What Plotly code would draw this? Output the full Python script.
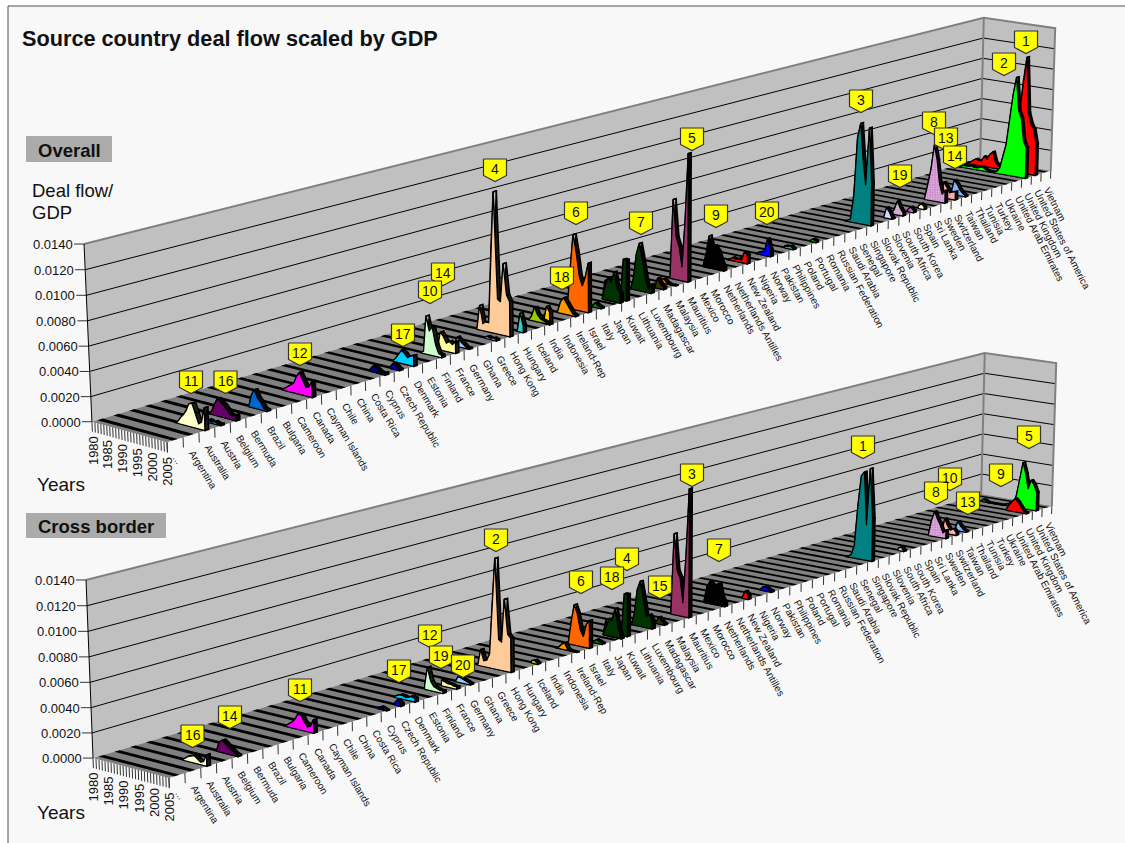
import numpy as np
import plotly.graph_objects as go

CATEGORIES = ["...", "Argentina", "Australia", "Austria", "Belgium", "Bermuda", "Brazil", "Bulgaria", "Cameroon", "Canada",
    "Cayman Islands", "Chile", "China", "Costa Rica", "Cyprus", "Czech Republic", "Denmark", "Estonia", "Finland", "France",
    "Germany", "Ghana", "Greece", "Hong Kong", "Hungary", "Iceland", "India", "Indonesia", "Ireland-Rep", "Israel", "Italy",
    "Japan", "Kuwait", "Lithuania", "Luxembourg", "Madagascar", "Malaysia", "Mauritius", "Mexico", "Morocco", "Netherlands",
    "Netherlands Antilles", "New Zealand", "Nigeria", "Norway", "Pakistan", "Philippines", "Poland", "Portugal", "Romania",
    "Russian Federation", "Saudi Arabia", "Senegal", "Singapore", "Slovak Republic", "Slovenia", "South Africa", "South Korea",
    "Spain", "Sri Lanka", "Sweden", "Switzerland", "Taiwan", "Thailand", "Tunisia", "Turkey", "Ukraine",
    "United Arab Emirates", "United Kingdom", "United States of America", "Vietnam"]
YEAR_LABELS = ["1980", "1985", "1990", "1995", "2000", "2005"]
VALUE_LABELS = ["0.0000", "0.0020", "0.0040", "0.0060", "0.0080", "0.0100", "0.0120", "0.0140"]

# Every series lists its last years, the final value being 2005.
ov_australia = [0, .0001, .0005, .0008, .0012, .0018, .0019, .0012, .0004, .0006, .0018]
ov_austria = [.0001, .0002, .0001, .0002, .0001, .0001]
ov_belgium = [0, .0003, .0009, .0014, .0012, .0010, .0007, .0004, .0003, .0005]
ov_brazil = [0, .0010, .0015, .0009, .0006, .0002, .0001]
ov_canada = [0, .0002, .0004, .0006, .0008, .0014, .0018, .0012, .0007, .0008, .0013]
ov_cyprus = [.0002, .0005, .0004, .0002, .0001, .0002]
ov_czech = [.0002, .0005, .0003, .0001]
ov_denmark = [0, .0003, .0007, .0011, .0009, .0006, .0008, .0009]
ov_finland = [0, .0002, .0032, .0020, .0024, .0010, .0003, .0002]
ov_france = [0, .0015, .0012, .0007, .0009, .0007, .0010]
ov_germany = [0, .0008, .0005, .0003, .0001, .0001]
ov_greece = [.0001, .0002, .0001, .0002, .0001]
ov_hong_kong = [0, .0021, .0006, .0008, .0008, .0070, .0120, .0030, .0028, .0061, .0035, .0030]
ov_hungary = [0, .0016, .0006]
ov_iceland = [0, .0004, .0012, .0006, .0003, .0002, .0001, .0001]
ov_india = [.0001, .0015, .0011]
ov_ireland = [.0001, .0010, .0014, .0010, .0006, .0002, .0001]
ov_israel = [.0002, .0035, .0065, .0050, .0030, .0022, .0030, .0043]
ov_italy = [.0001, .0004, .0002, .0001]
ov_japan_back = [0, .0017, 0, 0, 0, 0, 0]
ov_japan = [0, .0012, .0020, .0016, .0026, .0012, .0008]
ov_kuwait = [.0001, .0036, .0036]
ov_luxembourg = [0, .0010, .0032, .0042, .0028, .0012, .0003, .0008]
ov_madagascar = [0, .0009, .0004, .0002]
ov_malaysia = [.0003, .0004, .0001, 0, 0, 0]
ov_mauritius = [.0002, .0071, .0038, .0030, .0012, .0054, .0114]
ov_netherlands = [.0001, .0012, .0029, .0020, .0021, .0017, .0009, .0003]
ov_new_zealand = [0, .0001, .0003, .0002, .0003, .0002, .0010, .0008]
ov_norway = [0, .0002, .0003, .0004, .0016, .0006]
ov_philippines = [.0002, .0002, .0003, .0001]
ov_portugal = [.0001, .0003, .0002]
ov_singapore = [0, .0001, .0003, .0025, .0080, .0094, .0060, .0037, .0091, .0040]
ov_slovenia = [0, .0010, .0006, .0001]
ov_south_africa = [0, .0005, .0013, .0007, .0003]
ov_south_korea = [.0002, .0005, .0002]
ov_spain = [.0002, .0005, .0003]
ov_sweden = [.0001, .0015, .0030, .0054, .0040, .0018, .0008, .0012]
ov_switzerland = [0, .0015, .0011, .0006, .0007, .0008]
ov_taiwan = [0, .0014, .0011, .0006, .0003, .0001]
ov_uk = [0, 0, 0, .0002, .0002, .0002, .0003, .0002, .0002, .0003, .0004, .0002, .0001, .0001, .0001, .0002, .0006, .0018,
         .0030, .0055, .0080, .0097, .0065, .0058, .0036, .0030]
ov_usa = [0, .0001, .0002, .0004, .0006, .0005, .0005, .0010, .0008, .0013, .0016, .0006, .0003, .0003, .0003, .0005, .0007,
          .0012, .0020, .0060, .0090, .0114, .0060, .0050, .0045, .0031]

cb_australia = [0, .0002, .0004, .0005, .0006, .0004, .0002, .0003, .0009]
cb_belgium = [0, .0008, .0010, .0008, .0006, .0004, .0002, .0001]
cb_canada = [0, .0001, .0003, .0005, .0008, .0013, .0012, .0007, .0004, .0005, .0011]
cb_cyprus = [.0001, .0002, .0001, 0]
cb_czech = [.0002, .0005, .0002]
cb_denmark = [0, .0002, .0003, .0003, .0002, .0003, .0004, .0003]
cb_finland = [.0003, .0019, .0008, .0004, .0003, .0002, .0002]
cb_france = [.0005, .0004, .0003, .0003, .0002, .0002]
cb_germany = [0, .0005, .0004, .0003, .0002, .0001]
cb_hong_kong = [0, .0014, .0005, .0006, .0012, .0055, .0094, .0026, .0024, .0061, .0032, .0029]
cb_iceland = [.0002, .0003, .0001]
cb_ireland = [0, .0001, .0004, .0006, .0001, 0, 0, 0]
cb_israel = [.0001, .0020, .0035, .0028, .0014, .0009, .0020, .0024]
cb_italy = [.0001, .0003, .0002, .0001]
cb_japan_back = [0, .0014, 0, 0, 0, 0, 0]
cb_japan = [0, .0008, .0015, .0014, .0025, .0009, .0001]
cb_kuwait = [.0001, .0037, .0037]
cb_luxembourg = [0, .0010, .0032, .0040, .0025, .0010, .0012, .0007]
cb_madagascar = [0, .0006, .0003, .0001]
cb_mauritius = [.0002, .0072, .0040, .0034, .0012, .0055, .0114]
cb_netherlands = [.0001, .0015, .0020, .0017, .0018, .0020, .0008, .0003]
cb_new_zealand = [.0001, .0007, .0004]
cb_norway = [0, .0003, .0004, .0002, .0001]
cb_singapore = [0, .0001, .0003, .0012, .0050, .0078, .0082, .0033, .0086, .0040]
cb_south_africa = [.0002, .0004, .0001]
cb_sweden = [.0001, .0015, .0024, .0017, .0012, .0005, .0008]
cb_switzerland = [0, .0014, .0008, .0004, .0006, .0003]
cb_taiwan = [0, .0009, .0005, .0002, .0001]
cb_uk = [.0001, .0006, .0010, .0013, .0010, .0006, .0002, .0001]
cb_usa = [.0002, .0002, 0, 0, 0, 0, 0, 0, .0001, .0002, 0, .0003, .0012, .0027, .0045, .0035, .0020, .0029, .0025, .0018]

OVERALL_SERIES = [
    ("Australia", ov_australia, "#FFFFCC", None), ("Austria", ov_austria, "#339999", None),
    ("Belgium", ov_belgium, "#660066", None), ("Brazil", ov_brazil, "#0066CC", None),
    ("Canada", ov_canada, "#FF00FF", None), ("Cyprus", ov_cyprus, "#000080", None),
    ("Czech Republic", ov_czech, "#0000CC", None), ("Denmark", ov_denmark, "#00CCFF", None),
    ("Finland", ov_finland, "#CCFFCC", None), ("France", ov_france, "#FFFF99", None),
    ("Germany", ov_germany, "#99CCFF", None), ("Greece", ov_greece, "#CC99FF", None),
    ("Hong Kong", ov_hong_kong, "#FFCC99", None), ("Hungary", ov_hungary, "#33CCCC", None),
    ("Iceland", ov_iceland, "#99CC00", None), ("India", ov_india, "#FFCC00", None),
    ("Ireland-Rep", ov_ireland, "#FF9900", None), ("Israel", ov_israel, "#FF6600", None),
    ("Italy", ov_italy, "#008000", None), ("Japan", ov_japan_back, "#CC5500", None), ("Japan", ov_japan, "#003300", None),
    ("Kuwait", ov_kuwait, "#003300", None), ("Luxembourg", ov_luxembourg, "#003300", None),
    ("Madagascar", ov_madagascar, "#333300", None), ("Malaysia", ov_malaysia, "#FF6600", None),
    ("Mauritius", ov_mauritius, "#993366", None), ("Netherlands", ov_netherlands, "#000000", None),
    ("New Zealand", ov_new_zealand, "#FF0000", None), ("Norway", ov_norway, "#0000FF", None),
    ("Philippines", ov_philippines, "#339999", None), ("Portugal", ov_portugal, "#008000", None),
    ("Singapore", ov_singapore, "#008080", None), ("Slovenia", ov_slovenia, "#CCCCFF", "."),
    ("South Africa", ov_south_africa, "#CC99CC", "."), ("South Korea", ov_south_korea, "#CC66CC", None),
    ("Spain", ov_spain, "#FFFFCC", None), ("Sweden", ov_sweden, "#CC88CC", "."),
    ("Switzerland", ov_switzerland, "#FF9999", "."), ("Taiwan", ov_taiwan, "#66AAFF", "."),
    ("United Kingdom", ov_uk, "#00FF00", None), ("United States of America", ov_usa, "#FF0000", None),
]
CROSS_SERIES = [
    ("Australia", cb_australia, "#FFFFCC", None), ("Belgium", cb_belgium, "#660066", None),
    ("Canada", cb_canada, "#FF00FF", None), ("Cyprus", cb_cyprus, "#000080", None),
    ("Czech Republic", cb_czech, "#0000CC", None), ("Denmark", cb_denmark, "#00CCFF", None),
    ("Finland", cb_finland, "#CCFFCC", None), ("France", cb_france, "#FFFF99", None),
    ("Germany", cb_germany, "#99CCFF", None), ("Hong Kong", cb_hong_kong, "#FFCC99", None),
    ("Iceland", cb_iceland, "#99CC00", None), ("Ireland-Rep", cb_ireland, "#FF9900", None),
    ("Israel", cb_israel, "#FF6600", None), ("Italy", cb_italy, "#008000", None),
    ("Japan", cb_japan_back, "#CC5500", None), ("Japan", cb_japan, "#003300", None),
    ("Kuwait", cb_kuwait, "#003300", None),
    ("Luxembourg", cb_luxembourg, "#003300", None), ("Madagascar", cb_madagascar, "#333300", None),
    ("Mauritius", cb_mauritius, "#993366", None), ("Netherlands", cb_netherlands, "#000000", None),
    ("New Zealand", cb_new_zealand, "#FF0000", None), ("Norway", cb_norway, "#0000FF", None),
    ("Singapore", cb_singapore, "#008080", None), ("South Africa", cb_south_africa, "#CC99CC", "."),
    ("Sweden", cb_sweden, "#CC88CC", "."), ("Switzerland", cb_switzerland, "#FF9999", "."),
    ("Taiwan", cb_taiwan, "#66AAFF", "."), ("United Kingdom", cb_uk, "#FF0000", None),
    ("United States of America", cb_usa, "#00FF00", None),
]
# Bands by which a drawn series sits to the right of its label in the picture
OVERALL_SHIFT = {"Japan": 0.5, "Iceland": 1.0}
CROSS_SHIFT = {"Japan": 0.5}

# Callouts: rank, centre x, top y (page pixels)
OVERALL_CALLOUTS = [(14, 443, 263), (10, 430, 281), (11, 191, 371), (16, 225.5, 371), (12, 300, 343), (17, 403, 324),
    (4, 495, 159), (18, 562, 267), (6, 576, 202), (7, 641, 212), (5, 692, 128), (9, 716, 205), (20, 767, 202),
    (3, 861, 90), (19, 900, 165), (8, 934, 112), (13, 946, 128), (14, 955, 146), (2, 1004, 53), (1, 1026, 31)]
CROSS_CALLOUTS = [(16, 192.5, 725), (14, 230, 706), (11, 300, 679), (17, 399, 660), (12, 430, 625), (19, 441, 646),
    (20, 463, 655), (2, 496, 529), (6, 581, 571), (4, 627, 548), (18, 612, 567), (15, 660, 576), (3, 692, 464),
    (7, 719, 539), (1, 863, 436), (10, 950, 468), (8, 936, 482), (13, 968, 492), (9, 1001, 464), (5, 1029, 426)]

# Projection anchors of each 3D box: (category frac, year frac, value frac) -> page pixel
OVERALL_BOX = [((0, 0, 0), (92, 422)), ((0, 0, 1), (84, 244)), ((0, 1, 0), (167, 442)), ((1, 0, 0), (980, 158)),
               ((1, 0, 1), (984, 18)), ((1, 1, 0), (1051, 171)), ((1, 1, 1), (1055, 28))]
CROSS_BOX = [((0, 0, 0), (93, 758)), ((0, 0, 1), (86, 580)), ((0, 1, 0), (169, 778)), ((1, 0, 0), (981, 494)),
             ((1, 0, 1), (985, 353)), ((1, 1, 0), (1052, 506)), ((1, 1, 1), (1056, 363))]

VMAX = 0.014
N = len(CATEGORIES)
FONT = "Liberation Sans"
STRIPE = 0.17
RIBBON = 0.12


def camera(box):
    rows = []
    for (a, b, c), (x, y) in box:
        p = [a, b, c, 1]
        rows.append(p + [0, 0, 0, 0] + [-x * q for q in p])
        rows.append([0, 0, 0, 0] + p + [-y * q for q in p])
    m = np.linalg.svd(np.array(rows, float))[2][-1].reshape(3, 4)
    def proj(u, v, value):
        h = m @ np.array([u, v, value / VMAX, 1.0])
        return h[0] / h[2], h[1] / h[2]
    return proj


fig = go.Figure()


def add_path(points, color=None, line=None, width=1.0, pattern=None):
    xs, ys = [], []
    for p in points:
        if p is None:
            xs.append(None); ys.append(None)
        else:
            xs.append(p[0]); ys.append(p[1])
    t = dict(x=xs, y=ys, mode="lines", hoverinfo="skip", showlegend=False,
             line=dict(color=line or "rgba(0,0,0,0)", width=width if line else 0))
    if color:
        t["fill"] = "toself"
        t["fillcolor"] = color
    if pattern:
        t["fillpattern"] = dict(shape=pattern, fgcolor="#FFFFFF", bgcolor=color, size=2.5, solidity=0.35)
    fig.add_trace(go.Scatter(**t))


def label(text, x, y, size=13, angle=0, xa="left", ya="middle", bold=False):
    fig.add_annotation(x=x, y=y, text=f"<b>{text}</b>" if bold else text, showarrow=False, textangle=angle,
                       xanchor=xa, yanchor=ya, borderpad=0, borderwidth=0,
                       font=dict(family=FONT, size=size, color="#111111"))


def dark(c):
    r, g, b = int(c[1:3], 16), int(c[3:5], 16), int(c[5:7], 16)
    return "#%02x%02x%02x" % (int(r * .12), int(g * .12), int(b * .12))


def draw_chart(box, series, callouts, shifts):
    P = camera(box)
    add_path([P(0, 0, 0), P(0, 0, VMAX), P(1, 0, VMAX), P(1, 0, 0), P(0, 0, 0)], "#C0C0C0")
    add_path([P(1, 0, 0), P(1, 0, VMAX), P(1, 1, VMAX), P(1, 1, 0), P(1, 0, 0)], "#C0C0C0")
    add_path([P(0, 0, 0), P(1, 0, 0), P(1, 1, 0), P(0, 1, 0), P(0, 0, 0)], "#808080")
    for k, text in enumerate(VALUE_LABELS):
        val = k * 0.002
        if k:
            if k < len(VALUE_LABELS) - 1:
                add_path([P(0, 0, val), P(1, 0, val), P(1, 1, val)], line="#000000", width=1)
        a = P(0, 0, val)
        add_path([(a[0] - 10, a[1]), a], line="#333333", width=1)
        label(text, a[0] - 11, a[1] + 0.5, size=13, xa="right")
    add_path([P(0, 0, VMAX), P(1, 0, VMAX), P(1, 1, VMAX), P(1, 1, 0)], line="#808080", width=2)
    add_path([P(1, 0, 0), P(1, 0, VMAX)], line="#808080", width=2)
    add_path([P(0, 0, 0), P(0, 0, VMAX)], line="#000000", width=1)
    for i in range(N):
        c = (i + .5) / N
        a, b = c - STRIPE / N, c + STRIPE / N
        add_path([P(a, 0, 0), P(b, 0, 0), P(b, 1, 0), P(a, 1, 0), P(a, 0, 0)], "#000000")
    drop = -0.0008
    for i in range(N + 1):
        u = i / N
        add_path([P(u, 1, 0), P(u, 1, drop)], line="#333333", width=1)
    for j in range(26):
        v = j / 25
        add_path([P(0, v, 0), P(0, v, drop)], line="#333333", width=1)
    for j, text in enumerate(YEAR_LABELS):
        v = j * 5 / 25
        a = P(0, v, drop)
        label(text, a[0] + 0.5, a[1] + 4, size=13, angle=-90, xa="center", ya="top")
    for i, text in enumerate(CATEGORIES):
        c = (i + .5) / N
        a = P(c, 1, 0)
        label(text, a[0] - 4, a[1] + 13, size=10, angle=58 + 5 * i / N, xa="left", ya="top")
    order = sorted(series, key=lambda s: -CATEGORIES.index(s[0]))
    for name, values, color, pattern in order:
        c = (CATEGORIES.index(name) + .5 + shifts.get(name, 0)) / N
        a, b = c - RIBBON / N, c + RIBBON / N
        n = len(values)
        vs = [1 - (n - 1 - k) / 25 for k in range(n)]
        rib = []
        for k in range(n - 1):
            rib += [P(a, vs[k], values[k]), P(a, vs[k + 1], values[k + 1]), P(b, vs[k + 1], values[k + 1]),
                    P(b, vs[k], values[k]), P(a, vs[k], values[k]), None]
        rib += [P(a, 1, values[-1]), P(b, 1, values[-1]), P(b, 1, 0), P(a, 1, 0), P(a, 1, values[-1])]
        add_path(rib, dark(color), line="#000000", width=1.5)
        face = [P(a, vs[0], 0)] + [P(a, vs[k], values[k]) for k in range(n)] + [P(a, 1, 0), P(a, vs[0], 0)]
        add_path(face, color, line="#000000", width=1.2, pattern=pattern)
    for rank, cx, top in callouts:
        w, h, s = 11.5, 22.5, 16.5
        add_path([(cx - w, top), (cx + w, top), (cx + w, top + s), (cx, top + h), (cx - w, top + s), (cx - w, top)],
                 "#FFFF00", line="#333333", width=1.2)
        label(str(rank), cx, top + 9.5, size=14, xa="center")


draw_chart(OVERALL_BOX, OVERALL_SERIES, OVERALL_CALLOUTS, OVERALL_SHIFT)
draw_chart(CROSS_BOX, CROSS_SERIES, CROSS_CALLOUTS, CROSS_SHIFT)

label("Source country deal flow scaled by GDP", 22, 38, size=21.7, bold=True)
label("Overall", 38, 150, size=18.5, bold=True)
label("Cross border", 38, 526, size=18.5, bold=True)
label("Deal flow/", 32, 190, size=18.5)
label("GDP", 32, 212, size=18.5)
label("Years", 37, 484, size=19)
label("Years", 37, 812, size=19)

fig.update_layout(
    width=1125, height=843, margin=dict(l=0, r=0, t=0, b=0), paper_bgcolor="#FFFFFF", plot_bgcolor="rgba(0,0,0,0)",
    xaxis=dict(range=[0, 1125], visible=False, fixedrange=True),
    yaxis=dict(range=[843, 0], visible=False, fixedrange=True),
    shapes=[
        dict(type="rect", x0=8, y0=6, x1=1140, y1=860, fillcolor="#F8F8F8", line=dict(color="#505050", width=1), layer="below"),
        dict(type="rect", x0=26, y0=136, x1=112, y1=162, fillcolor="#ABABAB", line=dict(width=0), layer="below"),
        dict(type="rect", x0=26, y0=513, x1=166, y1=538, fillcolor="#ABABAB", line=dict(width=0), layer="below"),
    ],
)
fig.write_html("out.html", config={"displayModeBar": False},
               post_script="document.body.style.margin='0';document.body.style.overflow='hidden';")
